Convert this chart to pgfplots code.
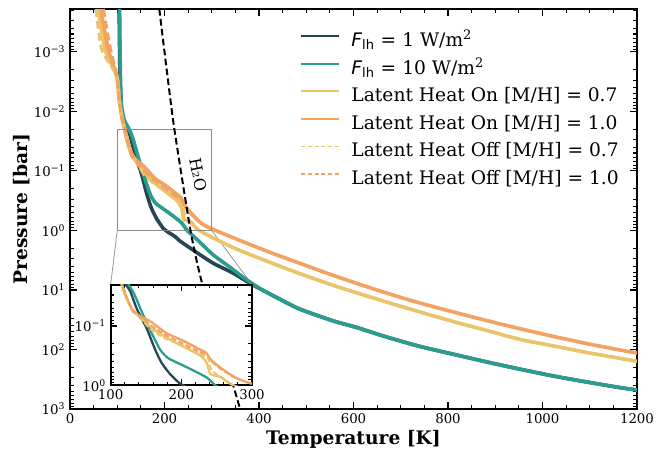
\documentclass[border=0pt]{standalone}
\usepackage{fontspec}
\setmainfont{DejaVu Serif}
\newfontfamily\dvsans{DejaVu Sans}
\usepackage{pgfplots}
\usepackage{pgfplotstable}
\pgfplotsset{compat=1.18}

\definecolor{cnavy}{HTML}{264653}
\definecolor{cteal}{HTML}{2A9D8F}
\definecolor{cyel}{HTML}{E9C46A}
\definecolor{corg}{HTML}{F4A261}

% temperature [K], pressure [bar]
\pgfplotstableread{
T P
104 1.9e-4
105 1e-3
106 3.16e-3
108 7.9e-3
113 0.0141
122 0.0204
128 0.0263
137 0.0513
151 0.110
163 0.251
172 0.417
184 0.646
198 0.933
210 1.10
222 1.26
233 1.51
268 2.34
303 3.55
346 5.25
381 7.76
409 10.2
450 15.1
487 21.1
557 33.1
607 42.7
670 61.7
741 89.1
811 120
882 162
952 214
1023 279
1093 351
1164 437
1200 479
}\flone

\pgfplotstableread{
T P
105 1.9e-4
106 1e-3
107 3.16e-3
109 7.9e-3
115 0.0141
126 0.0204
134 0.0300
144 0.0575
158 0.132
170 0.251
181 0.347
198 0.437
217 0.562
236 0.741
248 1.0
262 1.26
275 1.58
303 2.57
339 4.17
374 6.76
409 10.2
450 15.1
487 21.1
557 33.1
607 42.7
670 61.7
741 89.1
811 120
882 162
952 214
1023 279
1093 351
1164 437
1200 479
}\flten

\pgfplotstableread{
T P
60 1.9e-4
74 9.1e-4
99 2.57e-3
104 6.3e-3
110 0.0126
116 0.0204
121 0.0316
131 0.0525
156 0.102
179 0.158
203 0.224
227 0.316
236 0.417
241 0.646
255 0.72
275 1.02
346 1.95
416 3.27
487 5.33
557 8.37
628 12.6
698 18.6
741 23.4
811 33.9
882 47.9
952 67.6
1023 87.1
1093 112
1164 141
1200 158
}\onseven

\pgfplotstableread{
T P
65 1.9e-4
81 9.1e-4
99 2.57e-3
104 6.3e-3
110 0.0126
116 0.0204
122 0.0316
132 0.0575
156 0.0832
179 0.132
203 0.178
227 0.251
235 0.282
241 0.363
255 0.501
275 0.724
293 0.89
346 1.33
416 2.22
487 3.58
557 5.69
628 8.81
698 13.2
741 16.6
811 23.4
882 32.7
952 44.7
1023 60.3
1093 79.4
1164 102
1200 115
}\onten

\pgfplotstableread{
T P
55 1.9e-4
67 9.1e-4
99 2.57e-3
104 6.3e-3
110 0.0126
116 0.0204
121 0.0316
131 0.0525
156 0.112
179 0.166
203 0.214
227 0.295
238 0.355
243 0.562
256 0.72
275 1.02
346 1.95
416 3.27
487 5.33
557 8.37
628 12.6
698 18.6
741 23.4
811 33.9
882 47.9
952 67.6
1023 87.1
1093 112
1164 141
1200 158
}\offseven

\pgfplotstableread{
T P
70.5 1.9e-4
86 9.1e-4
100 2.57e-3
105 6.3e-3
110 0.0126
117 0.0204
122 0.0316
133 0.0575
156 0.0955
179 0.145
203 0.200
227 0.275
238 0.316
243 0.398
255 0.525
275 0.73
293 0.89
346 1.33
416 2.22
487 3.58
557 5.69
628 8.81
698 13.2
741 16.6
811 23.4
882 32.7
952 44.7
1023 60.3
1093 79.4
1164 102
1200 115
}\offten

% water condensation curve
\pgfplotstableread{
T P
189 1.9e-4
200 1e-3
220 0.0178
255 1
279 7.4
323 100
360 1000
}\water

\tikzset{profile/.style={smooth, tension=0.35}}

\begin{document}
\begin{tikzpicture}
\path[use as bounding box] (-52.5pt,-30pt) rectangle (448.5pt,306.75pt);
\begin{axis}[
  name=main,
  scale only axis,
  width=425.25pt, height=300pt,
  ymode=log, y dir=reverse,
  xmin=0, xmax=1200, ymin=1.9e-4, ymax=1000,
  tick align=inside,
  major tick length=5pt, minor tick length=2.7pt,
  every tick/.style={black, line width=0.8pt},
  axis line style={line width=1.4pt},
  tick label style={font=\fontsize{10}{12}\selectfont},
  /pgf/number format/assume math mode=true,
  /pgf/number format/1000 sep={},
  xtick={0,200,...,1200}, minor x tick num=3,
  ytick={1e-3,1e-2,1e-1,1,10,100,1000},
  yticklabels={10\textsuperscript{−3},10\textsuperscript{−2},10\textsuperscript{−1},10\textsuperscript{0},10\textsuperscript{1},10\textsuperscript{2},10\textsuperscript{3}},
  minor ytick={2e-4,3e-4,4e-4,5e-4,6e-4,7e-4,8e-4,9e-4,
    2e-3,3e-3,4e-3,5e-3,6e-3,7e-3,8e-3,9e-3,
    0.02,0.03,0.04,0.05,0.06,0.07,0.08,0.09,
    0.2,0.3,0.4,0.5,0.6,0.7,0.8,0.9,
    2,3,4,5,6,7,8,9,20,30,40,50,60,70,80,90,
    200,300,400,500,600,700,800,900},
  xlabel={Temperature [K]}, ylabel={Pressure [bar]},
  label style={font=\fontsize{14}{16}\selectfont\bfseries},
  xlabel style={yshift=2pt},
  ylabel shift=-4pt,
  legend style={draw=none, fill=none, at={(0.4056,0.947)}, anchor=north west,
    inner sep=0pt, row sep=4.2pt,
    font=\fontsize{14}{16}\selectfont,
    nodes={inner sep=1pt, text height=11pt, text depth=3.5pt}},
  legend cell align=left,
  legend image code/.code={\draw[#1] (0pt,4pt) -- (28pt,4pt); \path (36pt,0pt);},
]
\addlegendimage{cnavy, line width=1.4pt}
\addlegendentry{{\dvsans\itshape F}\textsubscript{\dvsans lh} = 1 W/m\textsuperscript{2}}
\addlegendimage{cteal, line width=1.4pt}
\addlegendentry{{\dvsans\itshape F}\textsubscript{\dvsans lh} = 10 W/m\textsuperscript{2}}
\addlegendimage{cyel, line width=1.4pt}
\addlegendentry{Latent Heat On [M/H] = 0.7}
\addlegendimage{corg, line width=1.4pt}
\addlegendentry{Latent Heat On [M/H] = 1.0}
\addlegendimage{cyel, line width=1.4pt, dash pattern=on 3pt off 2pt}
\addlegendentry{Latent Heat Off [M/H] = 0.7}
\addlegendimage{corg, line width=1.4pt, dash pattern=on 3pt off 2pt}
\addlegendentry{Latent Heat Off [M/H] = 1.0}

% zoom box and its connectors to the inset
\draw[black!40, line width=0.6pt] (axis cs:100,1) -- (axis description cs:0.0717,0.311);
\draw[black!40, line width=0.6pt] (axis cs:300,1) -- (axis description cs:0.321,0.311);

\addplot[profile, no marks, cnavy, line width=2.7pt, forget plot] table {\flone};
\addplot[profile, no marks, cteal, line width=2.7pt, forget plot] table {\flten};
\addplot[profile, no marks, cyel, line width=2.7pt, forget plot] table {\onseven};
\addplot[profile, no marks, corg, line width=2.7pt, forget plot] table {\onten};
\addplot[profile, no marks, cyel, line width=2.2pt, dash pattern=on 6pt off 3pt, forget plot] table {\offseven};
\addplot[profile, no marks, corg, line width=2.2pt, dash pattern=on 6pt off 3pt, forget plot] table {\offten};

\draw[black!45, line width=1pt] (axis cs:100,0.02) rectangle (axis cs:300,1);

\addplot[profile, no marks, black, line width=1.5pt, dash pattern=on 5pt off 2.5pt, forget plot] table {\water};
\node[rotate=-79, font=\fontsize{12}{14}\selectfont] at (axis cs:272,0.115) {H₂O};
\end{axis}

\begin{axis}[
  name=inset,
  at={(30.5pt,17.8pt)}, anchor=south west,
  scale only axis,
  width=106pt, height=75.5pt,
  ymode=log, y dir=reverse,
  xmin=100, xmax=300, ymin=0.02, ymax=1,
  tick align=inside,
  major tick length=5pt, minor tick length=2.7pt,
  every tick/.style={black, line width=0.8pt},
  axis line style={line width=1.4pt},
  tick label style={font=\fontsize{10}{12}\selectfont},
  /pgf/number format/assume math mode=true,
  xtick={100,200,300}, minor x tick num=4,
  ytick={0.1,1},
  yticklabels={10\textsuperscript{−1},10\textsuperscript{0}},
  minor ytick={0.03,0.04,0.05,0.06,0.07,0.08,0.09,0.2,0.3,0.4,0.5,0.6,0.7,0.8,0.9},
  axis background/.style={fill=white},
]
\addplot[profile, no marks, cnavy, line width=1.7pt] table {\flone};
\addplot[profile, no marks, cteal, line width=1.7pt] table {\flten};
\addplot[profile, no marks, cyel, line width=1.7pt] table {\onseven};
\addplot[profile, no marks, corg, line width=1.7pt] table {\onten};
\addplot[profile, no marks, cyel, line width=1.4pt, dash pattern=on 4pt off 2pt] table {\offseven};
\addplot[profile, no marks, corg, line width=1.4pt, dash pattern=on 4pt off 2pt] table {\offten};
\end{axis}
\end{tikzpicture}
\end{document}
